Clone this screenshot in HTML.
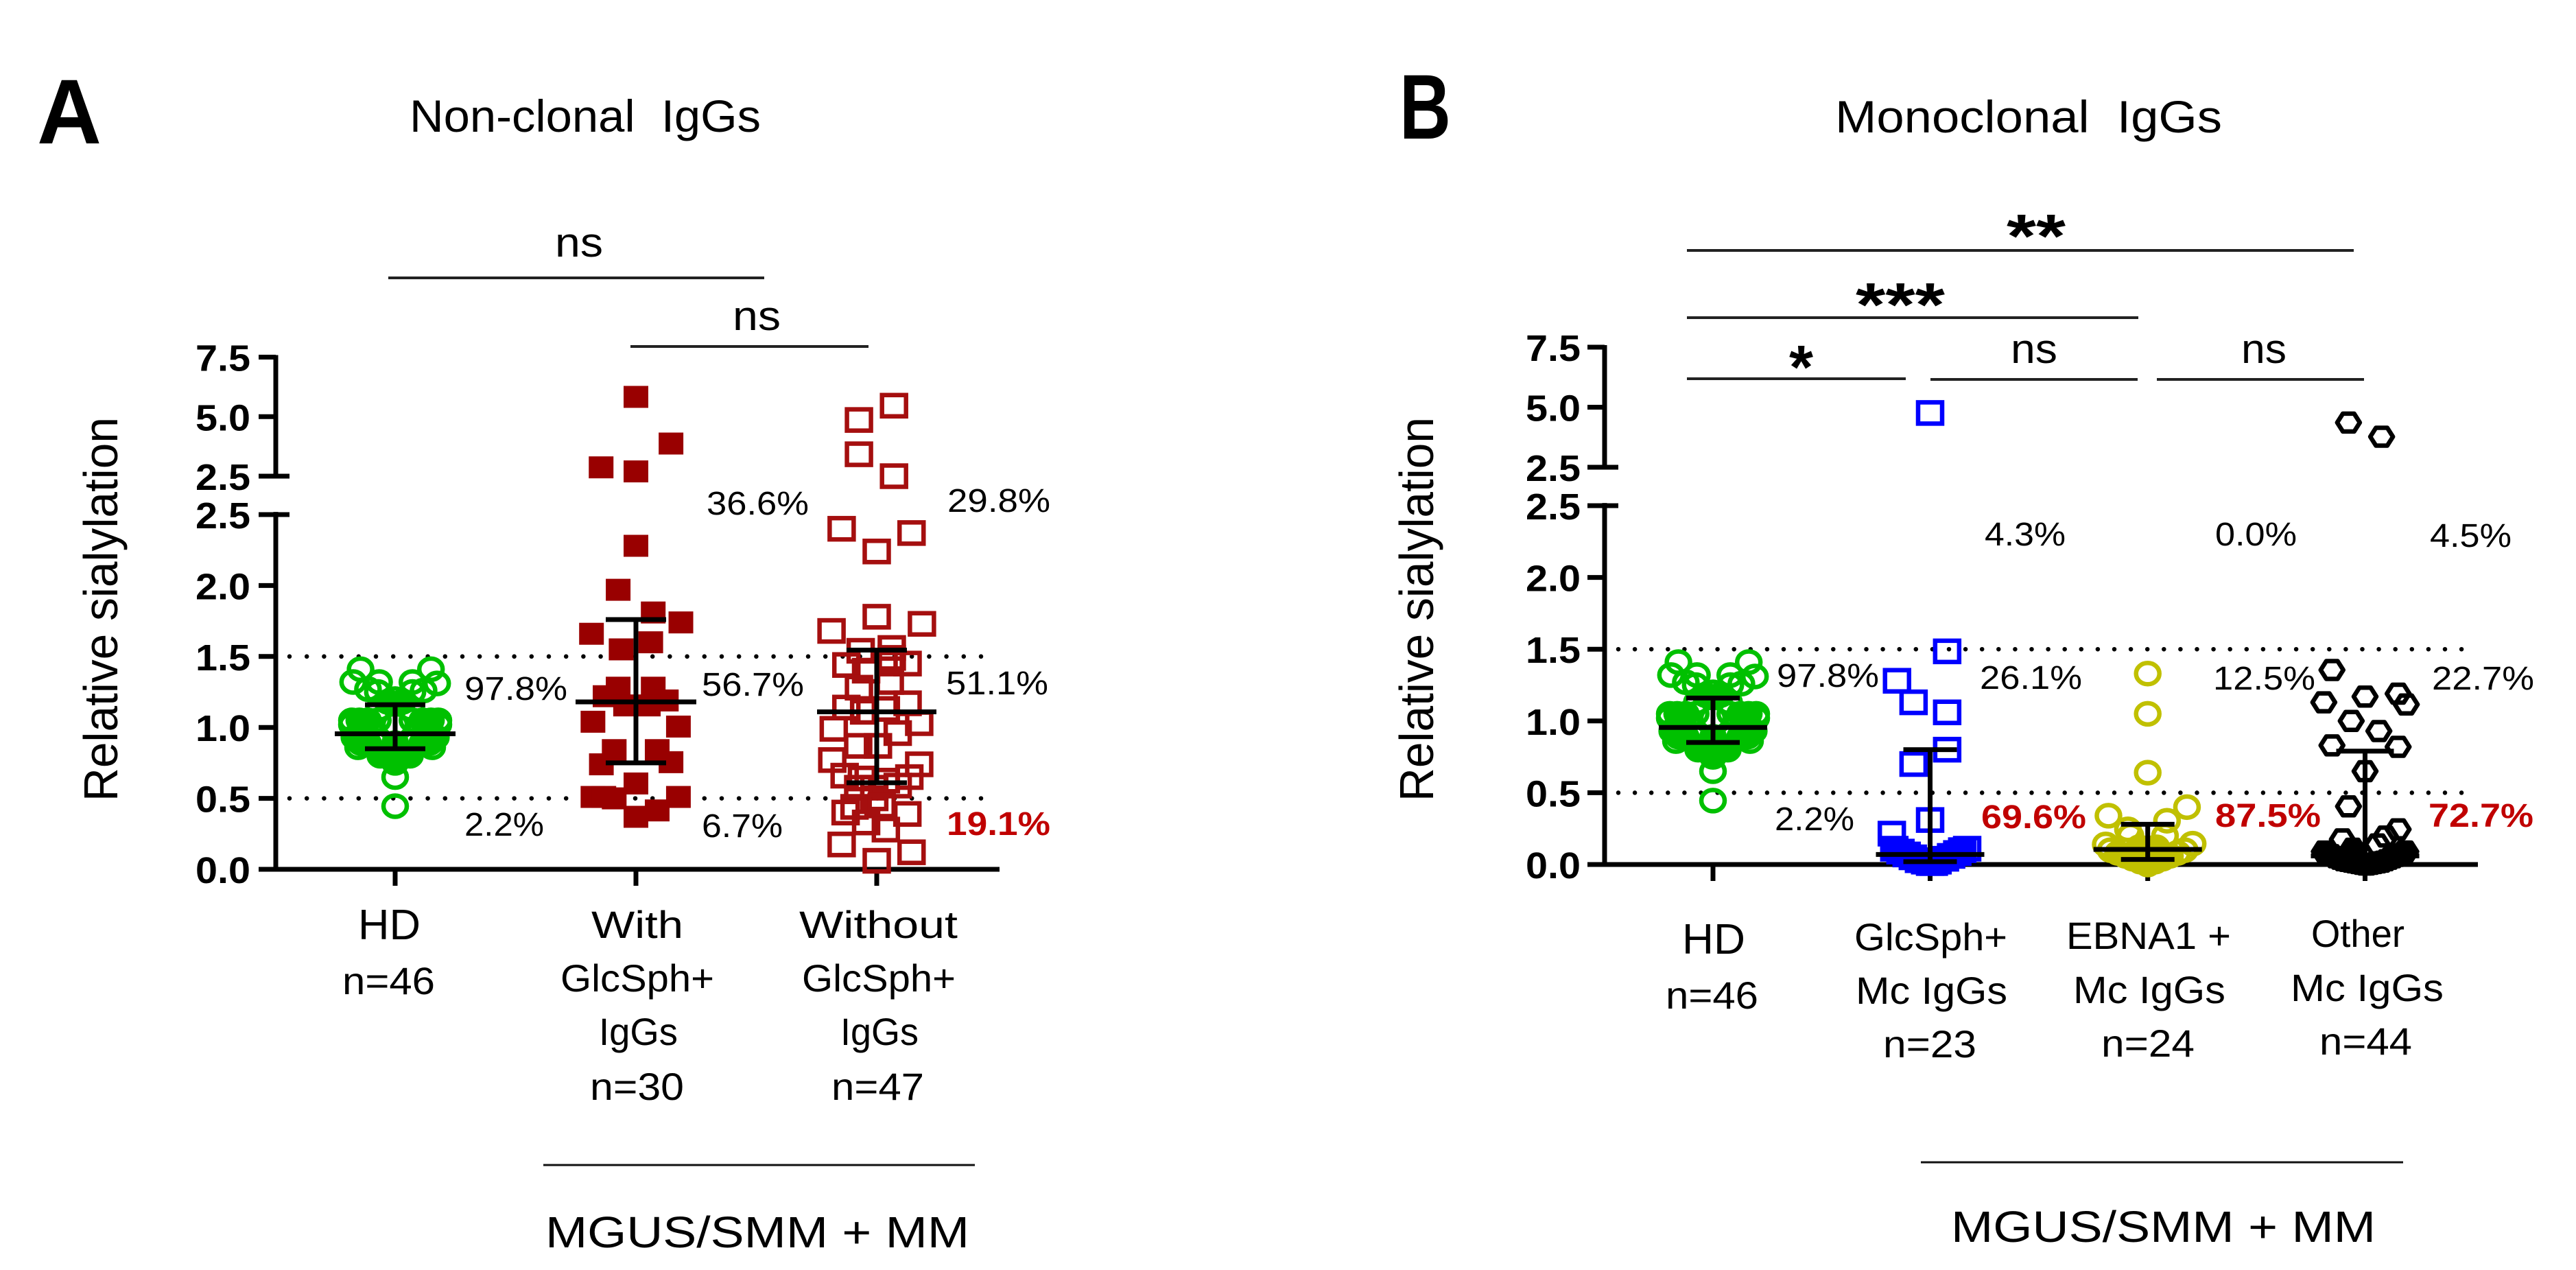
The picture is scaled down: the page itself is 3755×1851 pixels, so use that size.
<!DOCTYPE html>
<html lang="en">
<head>
<meta charset="utf-8">
<title>Relative sialylation of non-clonal and monoclonal IgGs</title>
<style>
html,body{margin:0;padding:0;background:#fff;}
svg{display:block;}
text{font-family:"Liberation Sans",sans-serif;fill:#000;}
.pct{font-size:48px;}
.red{font-size:48px;font-weight:bold;fill:#c00000;}
.cat{font-size:56px;}
.tit{font-size:66px;}
.ns{font-size:60px;}
.star{font-size:90px;font-weight:bold;}
.pan{font-size:134px;font-weight:bold;}
.yt{font-size:70px;}
</style>
</head>
<body>
<svg id="figure" xmlns="http://www.w3.org/2000/svg" width="3755" height="1851" viewBox="0 0 3755 1851">
<rect width="3755" height="1851" fill="#fff"/>

<text class="pan" x="54" y="209" textLength="94" lengthAdjust="spacingAndGlyphs">A</text>
<text class="pan" x="2040" y="202" textLength="75" lengthAdjust="spacingAndGlyphs">B</text>
<text class="tit" x="597" y="192" textLength="512" lengthAdjust="spacingAndGlyphs" xml:space="preserve">Non-clonal  IgGs</text>
<text class="tit" x="2675" y="193" textLength="564" lengthAdjust="spacingAndGlyphs" xml:space="preserve">Monoclonal  IgGs</text>

<text class="yt" transform="translate(171,1168) rotate(-90)" textLength="560" lengthAdjust="spacingAndGlyphs">Relative sialylation</text>
<text class="yt" transform="translate(2089,1168) rotate(-90)" textLength="560" lengthAdjust="spacingAndGlyphs">Relative sialylation</text>

<g>
<line x1="566" x2="1114" y1="405" y2="405" stroke="#222" stroke-width="4"/>
<text class="ns" x="809" y="374" textLength="70" lengthAdjust="spacingAndGlyphs">ns</text>
<line x1="919" x2="1266" y1="505" y2="505" stroke="#222" stroke-width="4"/>
<text class="ns" x="1068" y="481" textLength="70" lengthAdjust="spacingAndGlyphs">ns</text>
</g>

<g>
<line x1="2459" x2="3431" y1="365" y2="365" stroke="#222" stroke-width="4"/>
<text class="star" x="2925" y="375" textLength="86" lengthAdjust="spacingAndGlyphs">**</text>
<line x1="2459" x2="3117" y1="463" y2="463" stroke="#222" stroke-width="4"/>
<text class="star" x="2705" y="475" textLength="130" lengthAdjust="spacingAndGlyphs">***</text>
<line x1="2459" x2="2778" y1="552" y2="552" stroke="#222" stroke-width="4"/>
<text class="star" x="2608" y="566">*</text>
<line x1="2814" x2="3116" y1="553" y2="553" stroke="#222" stroke-width="4"/>
<text class="ns" x="2931" y="529" textLength="68" lengthAdjust="spacingAndGlyphs">ns</text>
<line x1="3144" x2="3446" y1="553" y2="553" stroke="#222" stroke-width="4"/>
<text class="ns" x="3267" y="529" textLength="66" lengthAdjust="spacingAndGlyphs">ns</text>
</g>

<g id="plots"></g>

<g>
<text class="pct" x="677" y="1020" textLength="150" lengthAdjust="spacingAndGlyphs">97.8%</text>
<text class="pct" x="677" y="1218" textLength="116" lengthAdjust="spacingAndGlyphs">2.2%</text>
<text class="pct" x="1030" y="750" textLength="149" lengthAdjust="spacingAndGlyphs">36.6%</text>
<text class="pct" x="1023" y="1014" textLength="149" lengthAdjust="spacingAndGlyphs">56.7%</text>
<text class="pct" x="1023" y="1220" textLength="118" lengthAdjust="spacingAndGlyphs">6.7%</text>
<text class="pct" x="1381" y="746" textLength="150" lengthAdjust="spacingAndGlyphs">29.8%</text>
<text class="pct" x="1379" y="1012" textLength="149" lengthAdjust="spacingAndGlyphs">51.1%</text>
<text class="red" x="1380" y="1217" textLength="151" lengthAdjust="spacingAndGlyphs">19.1%</text>
</g>

<g>
<text class="pct" x="2590" y="1001" textLength="149" lengthAdjust="spacingAndGlyphs">97.8%</text>
<text class="pct" x="2587" y="1210" textLength="116" lengthAdjust="spacingAndGlyphs">2.2%</text>
<text class="pct" x="2893" y="795" textLength="118" lengthAdjust="spacingAndGlyphs">4.3%</text>
<text class="pct" x="3229" y="795" textLength="119" lengthAdjust="spacingAndGlyphs">0.0%</text>
<text class="pct" x="3542" y="797" textLength="119" lengthAdjust="spacingAndGlyphs">4.5%</text>
<text class="pct" x="2886" y="1004" textLength="149" lengthAdjust="spacingAndGlyphs">26.1%</text>
<text class="pct" x="3226" y="1005" textLength="149" lengthAdjust="spacingAndGlyphs">12.5%</text>
<text class="pct" x="3545" y="1005" textLength="149" lengthAdjust="spacingAndGlyphs">22.7%</text>
<text class="red" x="2888" y="1207" textLength="153" lengthAdjust="spacingAndGlyphs">69.6%</text>
<text class="red" x="3229" y="1205" textLength="154" lengthAdjust="spacingAndGlyphs">87.5%</text>
<text class="red" x="3540" y="1205" textLength="153" lengthAdjust="spacingAndGlyphs">72.7%</text>
</g>

<g>
<text class="cat" style="font-size:62px" x="522" y="1369" textLength="91" lengthAdjust="spacingAndGlyphs">HD</text>
<text class="cat" x="499" y="1449" textLength="135" lengthAdjust="spacingAndGlyphs">n=46</text>
<text class="cat" x="862" y="1367" textLength="134" lengthAdjust="spacingAndGlyphs">With</text>
<text class="cat" x="817" y="1445" textLength="224" lengthAdjust="spacingAndGlyphs">GlcSph+</text>
<text class="cat" x="873" y="1523" textLength="115" lengthAdjust="spacingAndGlyphs">IgGs</text>
<text class="cat" x="860" y="1603" textLength="137" lengthAdjust="spacingAndGlyphs">n=30</text>
<text class="cat" x="1165" y="1367" textLength="231" lengthAdjust="spacingAndGlyphs">Without</text>
<text class="cat" x="1169" y="1445" textLength="224" lengthAdjust="spacingAndGlyphs">GlcSph+</text>
<text class="cat" x="1225" y="1523" textLength="114" lengthAdjust="spacingAndGlyphs">IgGs</text>
<text class="cat" x="1212" y="1603" textLength="135" lengthAdjust="spacingAndGlyphs">n=47</text>
<line x1="792" x2="1421" y1="1698" y2="1698" stroke="#111" stroke-width="3"/>
<text class="cat" style="font-size:64px" x="795" y="1818" textLength="618" lengthAdjust="spacingAndGlyphs">MGUS/SMM + MM</text>
</g>

<g>
<text class="cat" style="font-size:62px" x="2452" y="1390" textLength="92" lengthAdjust="spacingAndGlyphs">HD</text>
<text class="cat" x="2428" y="1470" textLength="135" lengthAdjust="spacingAndGlyphs">n=46</text>
<text class="cat" x="2703" y="1385" textLength="223" lengthAdjust="spacingAndGlyphs">GlcSph+</text>
<text class="cat" x="2705" y="1463" textLength="221" lengthAdjust="spacingAndGlyphs">Mc IgGs</text>
<text class="cat" x="2745" y="1541" textLength="136" lengthAdjust="spacingAndGlyphs">n=23</text>
<text class="cat" x="3012" y="1383" textLength="240" lengthAdjust="spacingAndGlyphs">EBNA1 +</text>
<text class="cat" x="3022" y="1462" textLength="222" lengthAdjust="spacingAndGlyphs">Mc IgGs</text>
<text class="cat" x="3063" y="1540" textLength="136" lengthAdjust="spacingAndGlyphs">n=24</text>
<text class="cat" x="3369" y="1380" textLength="136" lengthAdjust="spacingAndGlyphs">Other</text>
<text class="cat" x="3339" y="1459" textLength="223" lengthAdjust="spacingAndGlyphs">Mc IgGs</text>
<text class="cat" x="3381" y="1537" textLength="135" lengthAdjust="spacingAndGlyphs">n=44</text>
<line x1="2800" x2="3503" y1="1694" y2="1694" stroke="#111" stroke-width="3"/>
<text class="cat" style="font-size:64px" x="2844" y="1810" textLength="619" lengthAdjust="spacingAndGlyphs">MGUS/SMM + MM</text>
</g>
</svg>

<script>
// Tick values and labels (shared by both panels)
var lowerTicks = [0, 0.5, 1, 1.5, 2, 2.5];
var upperTicks = [2.5, 5, 7.5];
var lowerTickLabels = ['0.0', '0.5', '1.0', '1.5', '2.0', '2.5'];
var upperTickLabels = ['2.5', '5.0', '7.5'];
var thresholds = [0.5, 1.5];

// Healthy donors (both panels). swarm = lateral swarm rank in marker widths.
var hdValues = [1.41,1.41,1.32,1.31,1.32,1.32,1.27,1.26,1.25,1.25,1.20,1.18,1.18,1.13,1.13,
  1.05,1.05,1.05,1.05,1.05,1.05,1.05,1.05,1.02,1.02,1.02,1.02,1.02,0.93,0.93,
  0.89,0.89,0.89,0.89,0.89,0.89,0.89,0.86,0.86,0.84,0.80,0.80,0.80,0.75,0.65,0.445];
var hdSwarm = [-1.4,1.45,-1.7,1.7,-0.65,0.7,-1.1,1.15,-0.7,0.7,0,-0.3,0.3,-0.65,0.65,
  -1.75,1.75,-1.45,1.45,-1.1,1.1,-0.7,0.7,-1.75,1.75,-1,1,0,-1.65,1.65,
  -1.4,1.4,-1.1,1.1,-0.8,0.8,0,-1.5,1.5,0,-0.6,0.6,0,0,0,0];
var hdSummary = [0.955, 1.16, 0.85];

// Panel A: non-clonal IgGs
var withValues = [5.83,3.87,2.87,2.70,2.28,1.97,1.81,1.74,1.66,1.60,1.55,1.28,1.28,1.22,1.19,1.155,1.155,1.04,1.006,0.84,0.84,0.74,0.755,0.605,0.51,0.50,0.51,0.415,0.37,0.51];
var withSwarm = [0,1.42,-1.41,0,0,-0.72,0.7,1.82,-1.8,0.6,-0.6,-0.72,0.7,-1.25,1.23,-0.42,0.5,-1.74,1.72,-0.88,0.86,-1.4,1.42,0,-1.74,-0.88,1.72,0.86,0,-1.3];
var withSummary = [1.18, 1.76, 0.75];

var withoutValues = [5.46,4.86,3.42,2.5,2.40,2.37,2.24,1.78,1.73,1.68,1.56,1.54,1.49,1.44,1.45,1.45,1.40,1.32,1.28,1.17,1.14,1.13,1.11,1.03,0.99,0.96,0.87,0.87,0.77,0.74,0.66,0.65,0.64,0.625,0.575,0.575,0.59,0.50,0.44,0.45,0.40,0.39,0.33,0.28,0.175,0.12,0.06];
var withoutSwarm = [0.7,-0.72,-0.72,0.7,-1.42,1.41,0,0,1.83,-1.83,0.61,-0.65,0.61,-1.23,1.25,0.53,-0.43,0.53,-0.72,1.25,-1.23,0.37,-0.51,1.72,-1.74,0.85,-0.75,0.05,-1.8,1.72,-1.3,1.32,-0.6,0.37,-0.1,-0.75,0.85,-0.1,-0.9,0.2,-1.26,1.24,-0.43,0.37,-1.42,1.41,0];
var withoutSummary = [1.11, 1.545, 0.61];

// Panel B: monoclonal IgGs
var glcValues = [4.76,1.485,1.28,1.13,1.06,0.80,0.70,0.31,0.215,0.11,0.10,0.08,0.06,0.04,0.02,0.01,0.01,0.02,0.03,0.05,0.07,0.09,0.11];
var glcSwarm = [0,0.69,-1.34,-0.67,0.69,0.69,-0.67,0,-1.55,1.5,1.3,1.1,0.85,0.6,0.3,0.15,0,-0.2,-0.45,-0.7,-0.95,-1.2,-1.45];
var glcSummary = [0.07, 0.80, 0.02];

var ebnaValues = [1.33,1.05,0.64,0.40,0.34,0.305,0.245,0.2,0.2,0.145,0.14,0.12,0.12,0.1,0.1,0.08,0.08,0.06,0.06,0.04,0.04,0.02,0.02,0];
var ebnaSwarm = [0,0,0,1.59,-1.59,0.78,-0.8,0.7,-0.7,1.82,-1.7,-0.35,0.35,-1.5,1.5,-1.2,1.2,-0.9,0.9,-0.6,0.6,-0.3,0.3,0];
var ebnaSummary = [0.105, 0.28, 0.035];

var otherValues = [4.36,3.77,1.355,1.17,1.19,1.13,1.115,1.0,0.93,0.83,0.82,0.65,0.405,0.245,0.175,0.195,0.14,0.09,0.11,
  0.09,0.09,0.085,0.08,0.075,0.07,0.065,0.06,0.05,0.05,0.04,0.04,0.03,0.03,0.025,0.02,0.02,0.015,0.015,0.01,0.01,0.005,0.005,0.0,0.0];
var otherSwarm = [-0.67,0.67,-1.34,0,1.34,-1.67,1.67,-0.56,0.56,-1.34,1.34,0,-0.67,1.34,-0.92,0.83,0.5,1.6,-0.5,
  -1.65,1.65,-1.6,1.55,-1.5,1.45,-1.35,1.3,-1.2,1.15,-1.05,1.0,-0.9,0.85,-0.75,0.7,-0.6,0.55,-0.45,0.4,-0.3,0.25,-0.15,0.1,0];
var otherSummary = [0.06, 0.79, 0.0];

var SVG_NS = 'http://www.w3.org/2000/svg';
var plots = document.getElementById('plots');

function makeAxis(zeroY, lowerTopY, upperBottomY, upperTopY) {
  return function (v) {
    if (v >= 2.5) {
      return upperBottomY - (v - 2.5) * (upperBottomY - upperTopY) / 5;
    }
    return zeroY - v * (zeroY - lowerTopY) / 2.5;
  };
}

function svgEl(tag, attrs, parent) {
  var el = document.createElementNS(SVG_NS, tag);
  for (var k in attrs) {
    el.setAttribute(k, attrs[k]);
  }
  parent.appendChild(el);
  return el;
}

function hexPoints(cx, cy, rx, ry) {
  var qx = rx * 0.5;
  return [[cx - rx, cy], [cx - qx, cy - ry], [cx + qx, cy - ry], [cx + rx, cy], [cx + qx, cy + ry], [cx - qx, cy + ry]]
    .map(function (p) { return p.join(','); }).join(' ');
}

function drawMarker(kind, x, y, color, solid, parent) {
  var el;
  var inner = solid ? color : 'none';
  if (kind === 'filled-square') {
    el = svgEl('rect', {x: x - 18, y: y - 16, width: 36, height: 32, fill: color}, parent);
  } else if (kind === 'open-square') {
    el = svgEl('rect', {x: x - 17.5, y: y - 15.5, width: 35, height: 31, fill: inner, stroke: color, 'stroke-width': 6.5}, parent);
  } else if (kind === 'circle') {
    el = svgEl('ellipse', {cx: x, cy: y, rx: 17, ry: 15.5, fill: inner, stroke: color, 'stroke-width': 6.5}, parent);
  } else {
    el = svgEl('polygon', {points: hexPoints(x, y, 16.5, 13), fill: inner, stroke: color, 'stroke-width': 6.5, 'stroke-linejoin': 'round'}, parent);
  }
  
  
}

function drawGroup(opts) {
  var g = svgEl('g', {}, plots);
  
  
  var xs = opts.values.map(function (v, i) { return opts.center + opts.swarm[i] * 36; });
  var ys = opts.values.map(function (v) { return opts.yScale(v); });
  opts.values.forEach(function (v, i) {
    // Heavily overplotted markers read as a solid mass in the figure.
    var crowd = 0;
    xs.forEach(function (x, j) {
      if (j !== i && Math.abs(x - xs[i]) < 22 && Math.abs(ys[j] - ys[i]) < 22) { crowd++; }
    });
    var solid = opts.solidCrowd > 0 && crowd >= opts.solidCrowd;
    drawMarker(opts.marker, xs[i], ys[i], opts.color, solid, g);
  });
  var s = opts.summary;
  var meanY = opts.yScale(s[0]), upY = opts.yScale(s[1]), loY = opts.yScale(s[2]);
  var c = opts.center;
  var bars = [
    ['error-bar-stem', c, c, upY, loY],
    ['error-bar-upper-cap', c - opts.capHalf, c + opts.capHalf, upY, upY],
    ['error-bar-lower-cap', c - opts.capHalf, c + opts.capHalf, loY, loY],
    ['mean-line', c - opts.meanHalf, c + opts.meanHalf, meanY, meanY]
  ];
  bars.forEach(function (b) {
    var ln = svgEl('line', {x1: b[1], x2: b[2], y1: b[3], y2: b[4], stroke: '#000', 'stroke-width': 7}, g);
    
    
  });
}

function drawPanel(p) {
  var axes = svgEl('g', {}, plots);
  
  

  thresholds.forEach(function (t) {
    var d = svgEl('line', {x1: p.axisX + 20, x2: p.dotEnd, y1: p.y(t), y2: p.y(t), stroke: '#000', 'stroke-width': 6.5, 'stroke-linecap': 'round', 'stroke-dasharray': '0 ' + p.dotGap}, axes);
    
    
  });

  var lowerAxis = svgEl('line', {x1: p.axisX, x2: p.axisX, y1: p.y(2.49) - 6, y2: p.y(0) + 3, stroke: '#000', 'stroke-width': 7}, axes);
  
  
  var upperAxis = svgEl('line', {x1: p.axisX, x2: p.axisX, y1: p.y(7.5) - 3, y2: p.y(2.5) + 3, stroke: '#000', 'stroke-width': 7}, axes);
  
  
  var xAxis = svgEl('line', {x1: p.axisX - 25, x2: p.xEnd, y1: p.y(0), y2: p.y(0), stroke: '#000', 'stroke-width': 7}, axes);
  
  

  function tick(y, label, isBreak) {
    var right = isBreak ? p.axisX + 20 : p.axisX;
    var t = svgEl('line', {x1: p.axisX - 25, x2: right, y1: y, y2: y, stroke: '#000', 'stroke-width': 7}, axes);
    
    
    var tx = svgEl('text', {x: p.labelEnd - 80, y: y + 20, 'font-size': 54, 'font-weight': 'bold', textLength: 80, lengthAdjust: 'spacingAndGlyphs'}, axes);
    tx.textContent = label;
    
    
  }
  lowerTicks.forEach(function (v, i) {
    tick(p.y(v === 2.5 ? 2.4999 : v), lowerTickLabels[i], v === 2.5);
  });
  upperTicks.forEach(function (v, i) {
    tick(p.y(v), upperTickLabels[i], v === 2.5);
  });

  p.groups.forEach(function (gr) {
    var t = svgEl('line', {x1: gr.center, x2: gr.center, y1: p.y(0), y2: p.y(0) + 24, stroke: '#000', 'stroke-width': 7}, axes);
    
    
  });

  p.groups.forEach(function (gr) {
    gr.yScale = p.y;
    drawGroup(gr);
  });
}

drawPanel({
  name: 'panel-a',
  y: makeAxis(1267, 750, 694, 520.5),
  axisX: 402, xEnd: 1457, dotEnd: 1449, dotGap: 25.2, labelEnd: 365,
  groups: [
    {name: 'hd', center: 576, values: hdValues, swarm: hdSwarm, summary: hdSummary, marker: 'circle', color: '#00c000', meanHalf: 88, capHalf: 44, solidCrowd: 4},
    {name: 'with-glcsph', center: 927, values: withValues, swarm: withSwarm, summary: withSummary, marker: 'filled-square', color: '#990000', meanHalf: 88, capHalf: 44, solidCrowd: 0},
    {name: 'without-glcsph', center: 1278, values: withoutValues, swarm: withoutSwarm, summary: withoutSummary, marker: 'open-square', color: '#a50f0f', meanHalf: 87, capHalf: 44, solidCrowd: 0}
  ]
});

drawPanel({
  name: 'panel-b',
  y: makeAxis(1260, 737, 681, 506),
  axisX: 2339, xEnd: 3612, dotEnd: 3598, dotGap: 24.1, labelEnd: 2304,
  groups: [
    {name: 'hd-b', center: 2497, values: hdValues, swarm: hdSwarm, summary: hdSummary, marker: 'circle', color: '#00c000', meanHalf: 79, capHalf: 39, solidCrowd: 4},
    {name: 'glcsph-mc', center: 2813.5, values: glcValues, swarm: glcSwarm, summary: glcSummary, marker: 'open-square', color: '#0000ff', meanHalf: 79, capHalf: 39, solidCrowd: 3},
    {name: 'ebna1-mc', center: 3130.7, values: ebnaValues, swarm: ebnaSwarm, summary: ebnaSummary, marker: 'circle', color: '#c0c000', meanHalf: 79, capHalf: 39, solidCrowd: 4},
    {name: 'other-mc', center: 3447.5, values: otherValues, swarm: otherSwarm, summary: otherSummary, marker: 'hexagon', color: '#000', meanHalf: 79, capHalf: 42, solidCrowd: 3}
  ]
});
</script>
</body>
</html>
